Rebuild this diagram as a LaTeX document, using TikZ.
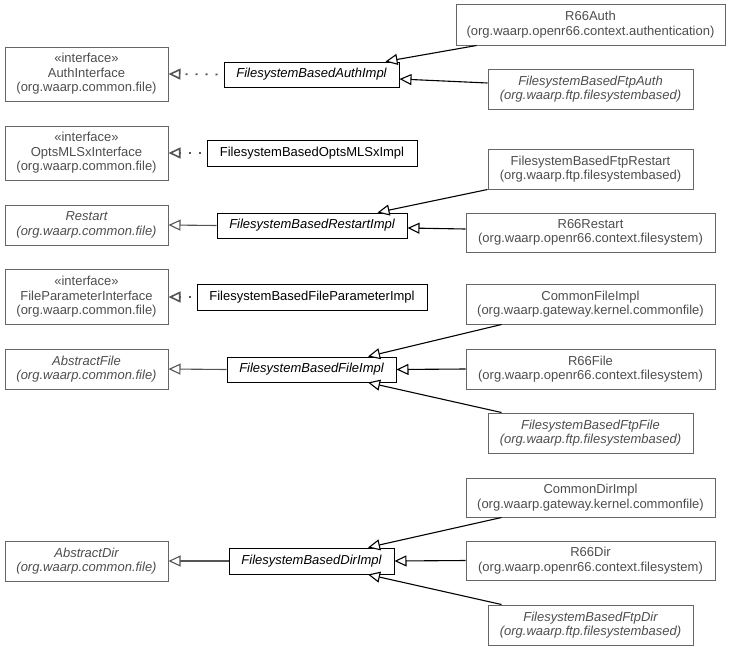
\documentclass[tikz,border=0pt]{standalone}
\usepackage{fontspec}
\setmainfont{Liberation Sans}
\usetikzlibrary{arrows.meta}
\definecolor{edgegrey}{HTML}{666666}
\definecolor{linegrey}{HTML}{555555}
\definecolor{txtgrey}{HTML}{4D4D4D}
\tikzset{
  basebox/.style={rectangle, line width=1pt, align=center, inner sep=0pt,
    font=\fontsize{13}{14.5}\selectfont},
  extbox/.style={basebox, draw=edgegrey, text=txtgrey},
  implbox/.style={basebox, draw=black, text=black},
  gen/.style={-{Triangle[open, length=12pt, width=11pt, fill=white]}, draw=black, line width=1.1pt},
  genl/.style={gen, draw=linegrey},
  realiz/.style={-{Triangle[open, length=12pt, width=11pt, fill=white, line width=1.6pt]}, draw=linegrey, line width=1.8pt, dash pattern=on 2pt off 8pt, dash phase=4pt}
}
\begin{document}
\begin{tikzpicture}[x=1pt, y=-1pt]
\useasboundingbox (0,0) rectangle (731,651);
% left column
\node[extbox, minimum width=163, minimum height=54] (authif) at (86.5,74) {«interface»\\AuthInterface\\(org.waarp.common.file)};
\node[extbox, minimum width=163, minimum height=54] (optsif) at (86.5,153) {«interface»\\OptsMLSxInterface\\(org.waarp.common.file)};
\node[extbox, minimum width=163, minimum height=40] (restart) at (86.5,225) {\itshape Restart\\\itshape (org.waarp.common.file)};
\node[extbox, minimum width=163, minimum height=55] (fpif) at (86.5,297) {«interface»\\FileParameterInterface\\(org.waarp.common.file)};
\node[extbox, minimum width=163, minimum height=40] (absfile) at (86.5,369) {\itshape AbstractFile\\\itshape (org.waarp.common.file)};
\node[extbox, minimum width=163, minimum height=40] (absdir) at (86.5,561) {\itshape AbstractDir\\\itshape (org.waarp.common.file)};
% middle column
\node[implbox, minimum width=175, minimum height=25] (authimpl) at (311.5,74.5) {\itshape FilesystemBasedAuthImpl};
\node[implbox, minimum width=210, minimum height=26] (optsimpl) at (312,153) {FilesystemBasedOptsMLSxImpl};
\node[implbox, minimum width=190, minimum height=25] (restartimpl) at (312,225.5) {\itshape FilesystemBasedRestartImpl};
\node[implbox, minimum width=230, minimum height=26] (fpimpl) at (312,297) {FilesystemBasedFileParameterImpl};
\node[implbox, minimum width=169, minimum height=25] (fileimpl) at (311.5,369.5) {\itshape FilesystemBasedFileImpl};
\node[implbox, minimum width=165, minimum height=26] (dirimpl) at (311.5,561) {\itshape FilesystemBasedDirImpl};
% right column
\node[extbox, minimum width=269, minimum height=41] (r66auth) at (590.5,24.5) {R66Auth\\(org.waarp.openr66.context.authentication)};
\node[extbox, minimum width=205, minimum height=40] (ftpauth) at (590.5,89) {\itshape FilesystemBasedFtpAuth\\\itshape (org.waarp.ftp.filesystembased)};
\node[extbox, minimum width=205, minimum height=40] (ftprestart) at (590.5,169) {FilesystemBasedFtpRestart\\(org.waarp.ftp.filesystembased)};
\node[extbox, minimum width=249, minimum height=39] (r66restart) at (590.5,232.5) {R66Restart\\(org.waarp.openr66.context.filesystem)};
\node[extbox, minimum width=249, minimum height=40] (commonfile) at (590.5,304) {CommonFileImpl\\(org.waarp.gateway.kernel.commonfile)};
\node[extbox, minimum width=249, minimum height=40] (r66file) at (590.5,369) {R66File\\(org.waarp.openr66.context.filesystem)};
\node[extbox, minimum width=205, minimum height=40] (ftpfile) at (590.5,433) {\itshape FilesystemBasedFtpFile\\\itshape (org.waarp.ftp.filesystembased)};
\node[extbox, minimum width=249, minimum height=39] (commondir) at (590.5,497.5) {CommonDirImpl\\(org.waarp.gateway.kernel.commonfile)};
\node[extbox, minimum width=249, minimum height=39] (r66dir) at (590.5,560.5) {R66Dir\\(org.waarp.openr66.context.filesystem)};
\node[extbox, minimum width=205, minimum height=40] (ftpdir) at (590.5,625) {\itshape FilesystemBasedFtpDir\\\itshape (org.waarp.ftp.filesystembased)};
% right -> middle
\draw[gen] ([xshift=21]r66auth.south west) -- ([xshift=-14]authimpl.north east);
\draw[gen] ([yshift=6]ftpauth.west) -- ([yshift=-4.5]authimpl.east);
\draw[gen] (ftprestart.south west) -- ([xshift=-30]restartimpl.north east);
\draw[gen] ([yshift=3.5]r66restart.west) -- ([yshift=-2.5]restartimpl.east);
\draw[gen] ([xshift=36]commonfile.south west) -- ([xshift=56.5]fileimpl.north);
\draw[gen] (r66file.west) -- (fileimpl.east);
\draw[gen] ([xshift=14]ftpfile.north west) -- ([xshift=56.5]fileimpl.south);
\draw[gen] ([xshift=36]commondir.south west) -- ([xshift=56.5]dirimpl.north);
\draw[gen] (r66dir.west) -- (dirimpl.east);
\draw[gen] ([xshift=14]ftpdir.north west) -- ([xshift=56.5]dirimpl.south);
% middle -> left
\draw[realiz] (authimpl.west) -- (authif.east);
\draw[realiz] (optsimpl.west) -- (optsif.east);
\draw[genl] (restartimpl.west) -- (restart.east);
\draw[realiz] (fpimpl.west) -- (fpif.east);
\draw[genl] (fileimpl.west) -- (absfile.east);
\draw[genl] (dirimpl.west) -- (absdir.east);
\end{tikzpicture}
\end{document}
